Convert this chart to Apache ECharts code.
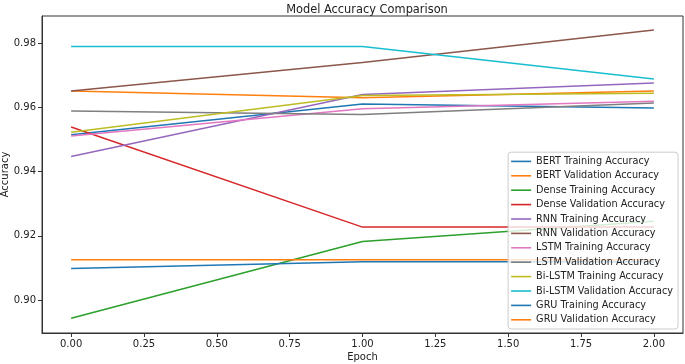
<!DOCTYPE html>
<html>
<head>
<meta charset="utf-8">
<script src="https://cdn.jsdelivr.net/npm/echarts@6/dist/echarts.min.js"></script>
<style>
  html, body { margin: 0; padding: 0; background: #fff; }
  #chart { width: 685px; height: 364px; }
</style>
</head>
<body>
<div id="chart"></div>
<script>
  // epochs on the x axis
  const epochs = [0, 1, 2]
  const xTicks = [0, 0.25, 0.5, 0.75, 1, 1.25, 1.5, 1.75, 2]
  const yTicks = [0.90, 0.92, 0.94, 0.96, 0.98]

  // accuracy per epoch
  const bertTrain = [0.9515, 0.9611, 0.9598]
  const bertVal = [0.9651, 0.9630, 0.9651]
  const denseTrain = [0.8943, 0.9182, 0.9245]
  const denseVal = [0.9539, 0.9227, 0.9227]
  const rnnTrain = [0.9447, 0.9640, 0.9676]
  const rnnVal = [0.9651, 0.9740, 0.9841]
  const lstmTrain = [0.9511, 0.9596, 0.9619]
  const lstmVal = [0.9589, 0.9578, 0.9614]
  const biLstmTrain = [0.9523, 0.9637, 0.9644]
  const biLstmVal = [0.9790, 0.9790, 0.9689]
  const gruTrain = [0.9098, 0.9119, 0.9119]
  const gruVal = [0.9125, 0.9125, 0.9125]

  const seriesDefs = [
    ['BERT Training Accuracy', bertTrain, '#1f77b4'],
    ['BERT Validation Accuracy', bertVal, '#ff7f0e'],
    ['Dense Training Accuracy', denseTrain, '#2ca02c'],
    ['Dense Validation Accuracy', denseVal, '#d62728'],
    ['RNN Training Accuracy', rnnTrain, '#9467bd'],
    ['RNN Validation Accuracy', rnnVal, '#8c564b'],
    ['LSTM Training Accuracy', lstmTrain, '#e377c2'],
    ['LSTM Validation Accuracy', lstmVal, '#7f7f7f'],
    ['Bi-LSTM Training Accuracy', biLstmTrain, '#bcbd22'],
    ['Bi-LSTM Validation Accuracy', biLstmVal, '#17becf'],
    ['GRU Training Accuracy', gruTrain, '#1f77b4'],
    ['GRU Validation Accuracy', gruVal, '#ff7f0e']
  ]

  const font = 'DejaVu Sans'
  const chart = echarts.init(document.getElementById('chart'))

  chart.setOption({
    animation: false,
    textStyle: { fontFamily: font },
    title: {
      text: 'Model Accuracy Comparison',
      left: 362,
      textAlign: 'center',
      top: 0,
      textStyle: { fontFamily: font, fontSize: 11.4, fontWeight: 'normal', color: '#222' }
    },
    grid: {
      left: 42,
      right: 2,
      top: 16,
      bottom: 31,
      outerBoundsMode: 'none',
      containLabel: false,
      show: true,
      borderColor: '#333',
      borderWidth: 1
    },
    legend: {
      orient: 'vertical',
      right: 7,
      bottom: 35,
      padding: [2, 5, 2, 3],
      backgroundColor: 'rgba(255,255,255,0.8)',
      borderColor: '#ccc',
      borderWidth: 1,
      borderRadius: 3,
      icon: 'rect',
      itemWidth: 20,
      itemHeight: 1.6,
      itemGap: 0,
      textStyle: { fontFamily: font, fontSize: 9.7, color: '#222', lineHeight: 14.4 },
      data: seriesDefs.map(d => d[0])
    },
    xAxis: {
      type: 'value',
      min: -0.1,
      max: 2.1,
      name: 'Epoch',
      nameLocation: 'middle',
      nameGap: 19,
      nameMoveOverlap: false,
      nameTextStyle: { fontFamily: font, fontSize: 10, color: '#222' },
      splitLine: { show: false },
      axisLine: { show: true, onZero: false, lineStyle: { color: '#333' } },
      axisTick: { show: true, length: 4, customValues: xTicks, lineStyle: { color: '#333' } },
      axisLabel: {
        customValues: xTicks,
        fontSize: 10,
        color: '#222',
        margin: 6,
        formatter: v => v.toFixed(2)
      }
    },
    yAxis: {
      type: 'value',
      min: 0.8897,
      max: 0.9885,
      name: 'Accuracy',
      nameLocation: 'middle',
      nameGap: 32,
      nameMoveOverlap: false,
      nameTextStyle: { fontFamily: font, fontSize: 10, color: '#222' },
      splitLine: { show: false },
      axisLine: { show: true, onZero: false, lineStyle: { color: '#333' } },
      axisTick: { show: true, length: 4, customValues: yTicks, lineStyle: { color: '#333' } },
      axisLabel: {
        customValues: yTicks,
        fontSize: 10,
        color: '#222',
        margin: 6,
        formatter: v => v.toFixed(2)
      }
    },
    series: seriesDefs.map(([name, vals, color]) => ({
      name: name,
      type: 'line',
      symbol: 'none',
      data: epochs.map((e, i) => [e, vals[i]]),
      itemStyle: { color: color },
      lineStyle: { color: color, width: 1.5 }
    }))
  })
</script>
</body>
</html>
